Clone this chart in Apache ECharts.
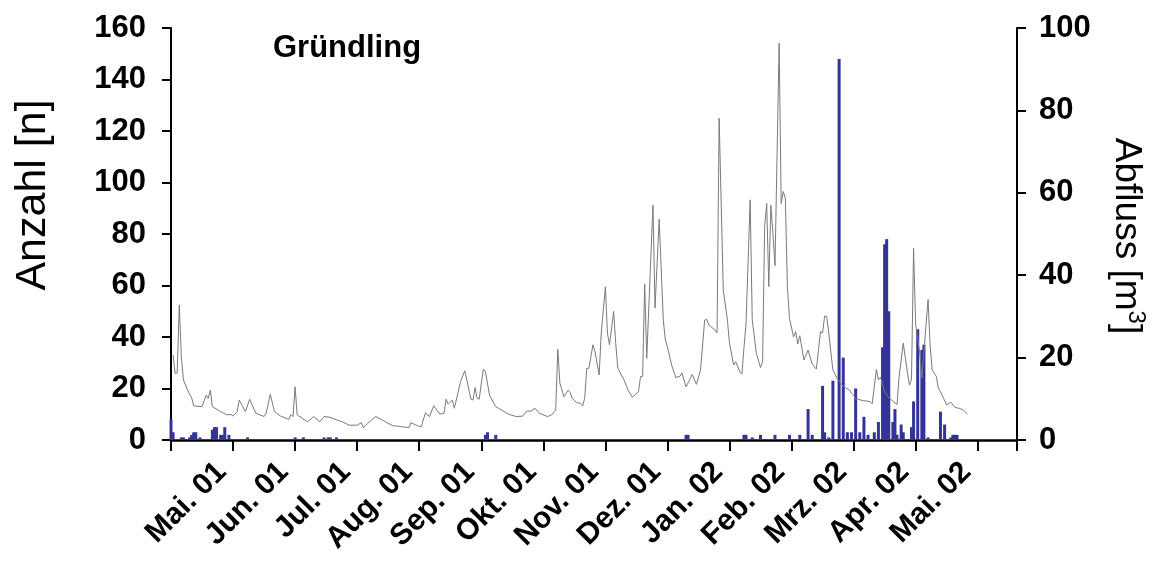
<!DOCTYPE html>
<html>
<head>
<meta charset="utf-8">
<script src="https://cdn.jsdelivr.net/npm/echarts@6/dist/echarts.min.js"></script>
<style>
  html, body { margin: 0; padding: 0; background: #fff; }
  #chart { width: 1152px; height: 573px; }
</style>
</head>
<body>
<div id="chart"></div>
<script>
// Month tick labels, one every 30 days starting at day 30
const monthLabels = ['Mai. 01', 'Jun. 01', 'Jul. 01', 'Aug. 01', 'Sep. 01', 'Okt. 01', 'Nov. 01',
  'Dez. 01', 'Jan. 02', 'Feb. 02', 'Mrz. 02', 'Apr. 02', 'Mai. 02'];

// Daily catch counts (day index, number of fish)
const catchDays = [0, 1, 5, 6, 9, 10, 11, 12, 14, 20, 21, 22, 24, 25, 26, 28, 37, 60, 64, 74, 76, 77, 80,
  152, 153, 157, 249, 250, 277, 278, 281, 285, 292, 299, 304, 308, 310, 315, 316, 318, 320, 323, 325,
  327, 329, 331, 333, 335, 337, 340, 342, 344, 345, 346, 347, 349, 350, 351, 353, 354, 358, 359, 361,
  363, 364, 366, 372, 374, 377, 378, 379, 380];
const catchCounts = [8, 3, 1, 1, 1, 2, 3, 3, 1, 4, 5, 5, 2, 2, 5, 2, 1, 1, 1, 1, 1, 1, 1,
  2, 3, 2, 2, 2, 2, 2, 1, 2, 2, 2, 2, 12, 2, 21, 3, 1, 23, 148, 32,
  3, 3, 20, 3, 9, 2, 3, 7, 36, 76, 78, 50, 7, 12, 2, 6, 3, 5, 15, 43,
  35, 37, 1, 11, 6, 1, 2, 2, 2];

// Discharge (day index, m3)
const flowDays = [1, 2, 3, 4, 5, 6, 8, 10, 11, 15, 17, 18, 19, 20, 24, 27, 29, 30, 32, 33, 36, 38, 41, 45,
  46, 48, 50, 53, 57, 58, 59, 60, 61, 66, 69, 72, 74, 77, 80, 83, 86, 90, 92, 93, 95, 99, 102, 107,
  112, 115, 116, 119, 121, 123, 125, 127, 130, 132, 133, 134, 136, 137, 140, 142, 143, 145, 146, 147,
  148, 149, 151, 152, 154, 157, 161, 164, 167, 170, 172, 174, 176, 178, 182, 184, 186, 187, 188, 190,
  192, 193, 194, 196, 198, 199, 200, 201, 202, 204, 205, 207, 208, 210, 211, 212, 214, 215, 216, 219,
  221, 223, 226, 227, 228, 229, 230, 233, 234, 236, 238, 239, 240, 242, 244, 246, 247, 249, 252, 254,
  256, 258, 259, 260, 261, 263, 264, 265, 267, 269, 270, 272, 273, 275, 276, 277, 278, 280, 281, 283,
  285, 286, 287, 288, 289, 290, 291, 292, 294, 295, 296, 297, 298, 299, 301, 302, 303, 304, 306, 308,
  310, 312, 314, 315, 316, 317, 318, 319, 320, 322, 323, 325, 328, 329, 330, 331, 332, 335, 336, 338,
  339, 341, 342, 343, 345, 347, 351, 352, 354, 356, 357, 358, 359, 360, 362, 363, 366, 367, 368, 370,
  371, 372, 375, 377, 379, 381, 383, 385];
const flowValues = [20.6, 16.2, 16.3, 32.8, 20.2, 14.6, 12.1, 10.2, 8.3, 8.1, 10.9, 10.1, 12.1, 8.1, 6.9,
  6.1, 6.2, 5.8, 6.9, 9.7, 6.9, 9.9, 6.5, 5.7,
  6.5, 11.1, 6.9, 5.8, 5.0, 6.2, 5.7, 12.9, 6.1, 4.4, 5.7, 4.4, 5.7, 5.5, 4.9, 4.4, 3.6, 3.6, 4.2, 3.0,
  4.0, 5.7, 4.9, 3.5,
  3.2, 3.0, 4.2, 3.5, 3.2, 6.6, 5.7, 8.3, 6.3, 6.5, 9.9, 8.7, 9.7, 7.7, 14.2, 16.8, 14.6, 9.9, 9.7, 12.7,
  10.1, 9.9, 17.2, 16.6, 10.9, 8.1, 6.9, 6.1, 5.7, 5.8, 7.0, 7.0, 7.7, 6.5, 5.7, 6.1, 7.3, 22.0, 13.8, 10.5,
  12.1, 11.5, 10.1, 9.1, 8.9, 8.3, 10.1, 17.4, 17.4, 23.1, 21.4, 15.8, 25.9, 37.2, 25.9, 23.1, 31.2, 23.5,
  17.4, 14.6,
  12.1, 10.4, 11.7, 15.4, 15.4, 37.9, 19.8, 57.0, 32.0, 53.6, 29.1, 24.3, 22.6, 18.2, 15.2, 15.4, 16.3,
  12.9, 15.9, 13.5,
  17.0, 29.1, 29.3, 27.9, 27.5, 26.7, 26.0, 78.1, 36.4, 29.1, 23.5, 18.2, 19.0, 16.6, 16.0, 22.3, 28.3,
  58.3, 29.1, 21.0,
  17.6, 19.0, 51.8, 57.4, 37.2, 57.0, 50.2, 42.3, 96.3, 57.4, 60.3, 58.7, 37.2, 29.5, 25.0, 26.3, 23.3,
  25.3, 19.4, 21.8,
  18.4, 17.2, 26.3, 26.0, 30.1, 30.0, 25.9, 21.4, 17.0, 15.0, 14.3, 13.0, 12.1, 11.3, 10.9, 9.9, 9.9,
  9.5, 9.5, 9.3,
  8.8, 17.1, 14.6, 15.2, 11.7, 10.3, 8.6, 15.4, 23.5, 16.5, 13.3, 14.8, 46.5, 28.0, 21.0, 15.0, 34.1,
  23.0, 17.0, 15.4,
  12.5, 11.7, 8.5, 9.2, 7.9, 7.7, 7.3, 6.3];

const FONT = '"Liberation Sans", Arial, sans-serif';

const catchData = catchDays.map((d, i) => [d, catchCounts[i]]);
const flowData = flowDays.map((d, i) => [d, flowValues[i]]);

const chart = echarts.init(document.getElementById('chart'), null, { renderer: 'canvas' });

const axisLineStyle = { show: true, lineStyle: { color: '#000', width: 2 } };
const tickLabelStyle = { color: '#000', fontFamily: FONT, fontWeight: 'bold', fontSize: 31 };

chart.setOption({
  animation: false,
  backgroundColor: '#fff',
  title: {
    text: 'Gründling',
    left: 268,
    top: 28,
    textStyle: { fontFamily: FONT, fontWeight: 'bold', fontSize: 31, color: '#000' }
  },
  grid: { left: 171, right: 135, top: 28, bottom: 133, containLabel: false },
  xAxis: {
    type: 'value',
    min: 0,
    max: 409,
    interval: 30,
    axisLine: { show: true, onZero: false, lineStyle: { color: '#000', width: 2.5 } },
    axisTick: { show: true, length: 11, lineStyle: { color: '#000', width: 2 } },
    splitLine: { show: false },
    axisLabel: Object.assign({}, tickLabelStyle, {
      fontSize: 30,
      rotate: 45,
      margin: 16,
      padding: [0, 16, 0, 0],
      showMinLabel: true,
      showMaxLabel: true,
      hideOverlap: false,
      formatter: v => (v > 0 && v % 30 === 0 && monthLabels[v / 30 - 1]) ? monthLabels[v / 30 - 1] : ''
    })
  },
  yAxis: [
    {
      type: 'value',
      position: 'left',
      min: 0,
      max: 160,
      interval: 20,
      axisLine: axisLineStyle,
      axisTick: { show: true, length: 9, lineStyle: { color: '#000', width: 2 } },
      splitLine: { show: false },
      axisLabel: Object.assign({}, tickLabelStyle, { margin: 25 })
    },
    {
      type: 'value',
      position: 'right',
      min: 0,
      max: 100,
      interval: 20,
      axisLine: axisLineStyle,
      axisTick: { show: true, length: 9, lineStyle: { color: '#000', width: 2 } },
      splitLine: { show: false },
      axisLabel: Object.assign({}, tickLabelStyle, { margin: 22 })
    }
  ],
  graphic: [
    {
      type: 'text',
      x: 33,
      y: 195,
      rotation: Math.PI / 2,
      style: {
        text: 'Anzahl [n]',
        font: '43px ' + FONT,
        fill: '#000',
        align: 'center',
        verticalAlign: 'middle'
      }
    },
    {
      type: 'text',
      x: 1130,
      y: 236,
      rotation: -Math.PI / 2,
      style: {
        text: '{a|Abfluss [m}{s|3}{a|]}',
        fill: '#000',
        align: 'center',
        verticalAlign: 'middle',
        rich: {
          a: { fontFamily: FONT, fontSize: 37, lineHeight: 44, verticalAlign: 'bottom' },
          s: { fontFamily: FONT, fontSize: 24, lineHeight: 44, verticalAlign: 'top', padding: [4, 0, 0, 0] }
        }
      }
    }
  ],
  series: [
    {
      name: 'Anzahl',
      type: 'bar',
      xAxisIndex: 0,
      yAxisIndex: 0,
      barWidth: 3,
      itemStyle: { color: '#333399' },
      data: catchData,
      z: 2
    },
    {
      name: 'Abfluss',
      type: 'line',
      xAxisIndex: 0,
      yAxisIndex: 1,
      showSymbol: false,
      symbol: 'none',
      lineStyle: { color: '#7a7a7a', width: 1 },
      data: flowData,
      z: 3
    }
  ]
});
</script>
</body>
</html>
